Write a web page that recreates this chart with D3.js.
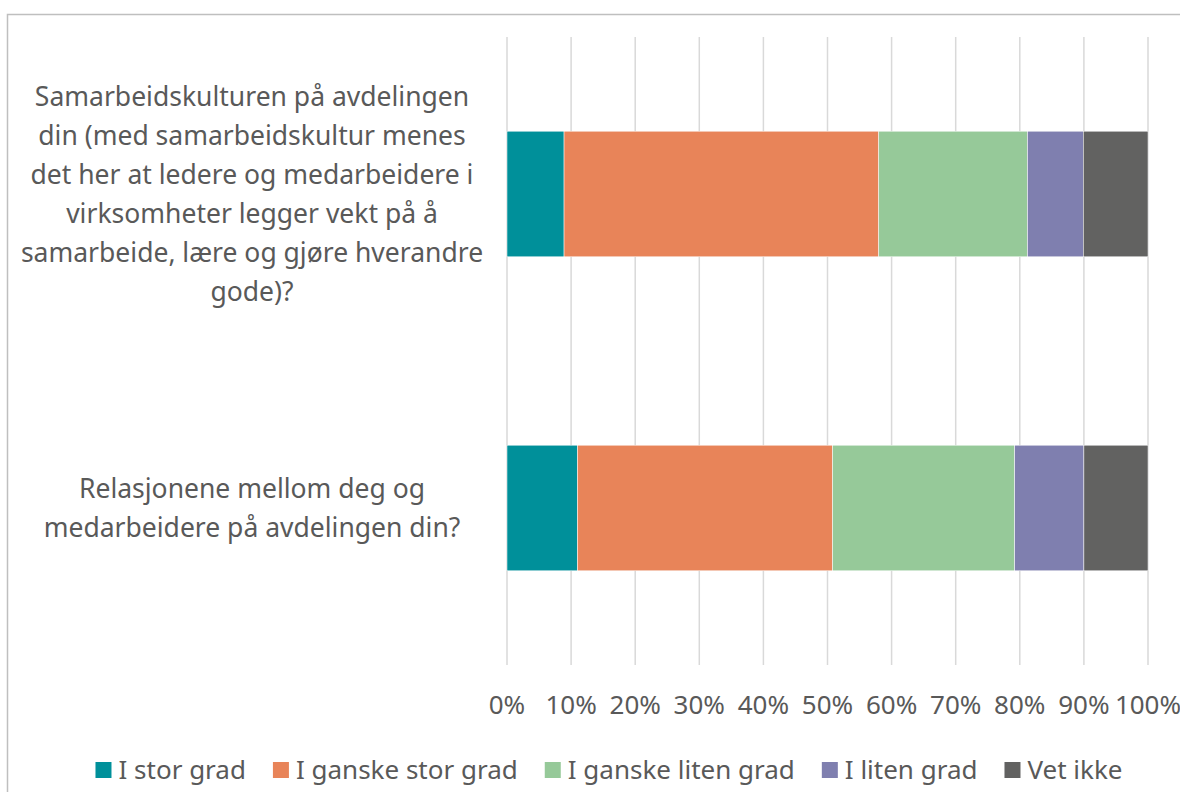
<!DOCTYPE html>
<html>
<head>
<meta charset="utf-8">
<script src="https://cdn.jsdelivr.net/npm/d3@7"></script>
<style>
  html, body { margin: 0; padding: 0; background: #fff; }
  svg { display: block; font-family: "Noto Sans", "Open Sans", sans-serif; }
</style>
</head>
<body>
<svg id="chart" width="1180" height="792"></svg>
<script>
// Stacked 100% bar data
const categories = [
  ["Samarbeidskulturen på avdelingen", "din (med samarbeidskultur menes",
   "det her at ledere og medarbeidere i", "virksomheter legger vekt på å",
   "samarbeide, lære og gjøre hverandre", "gode)?"],
  ["Relasjonene mellom deg og", "medarbeidere på avdelingen din?"]
];
const seriesNames = ["I stor grad", "I ganske stor grad", "I ganske liten grad", "I liten grad", "Vet ikke"];
const seriesColors = ["#00909a", "#e88459", "#96c999", "#7f7faf", "#626261"];
const storGrad        = [8.9, 11.0];
const ganskeStorGrad  = [49.1, 39.8];
const ganskeLitenGrad = [23.2, 28.4];
const litenGrad       = [8.7, 10.8];
const vetIkke         = [10.1, 10.0];
const tickValues = [0, 10, 20, 30, 40, 50, 60, 70, 80, 90, 100];

const INK = "#595959";
const svg = d3.select("#chart");

// chart frame (cut at right and bottom edges)
svg.append("rect").attr("x", 7.5).attr("y", 14.5).attr("width", 1400).attr("height", 900)
  .attr("fill", "none").attr("stroke", "#bfbfbf").attr("stroke-width", 1.5);

const plot = { left: 507, right: 1148, top: 37, bottom: 665 };
const x = d3.scaleLinear().domain([0, 100]).range([plot.left, plot.right]);
const y = d3.scaleBand().domain(d3.range(categories.length)).range([plot.top, plot.bottom]).paddingInner(0.6).paddingOuter(0.3);

// grid
svg.append("g").selectAll("line").data(tickValues).join("line")
  .attr("x1", d => x(d)).attr("x2", d => x(d))
  .attr("y1", plot.top).attr("y2", plot.bottom)
  .attr("stroke", "#d9d9d9").attr("stroke-width", 1.5);

// stacked bars
const rows = categories.map((c, i) => ({
  i,
  "I stor grad": storGrad[i],
  "I ganske stor grad": ganskeStorGrad[i],
  "I ganske liten grad": ganskeLitenGrad[i],
  "I liten grad": litenGrad[i],
  "Vet ikke": vetIkke[i]
}));
const stack = d3.stack().keys(seriesNames)(rows);
const color = d3.scaleOrdinal().domain(seriesNames).range(seriesColors);

svg.append("g").selectAll("g").data(stack).join("g")
  .attr("fill", s => color(s.key))
  .selectAll("rect").data(s => s).join("rect")
  .attr("x", d => x(d[0])).attr("width", d => x(d[1]) - x(d[0]))
  .attr("y", d => y(d.data.i)).attr("height", y.bandwidth())
  .attr("stroke", "#fff").attr("stroke-width", 0.5);

// x axis labels
svg.append("g").selectAll("text").data(tickValues).join("text")
  .attr("x", d => x(d)).attr("y", 714)
  .attr("text-anchor", "middle").attr("font-size", 26).attr("fill", INK)
  .text(d => d + "%");

// category labels
const LINE_H = 39;
const catG = svg.append("g");
categories.forEach((lines, i) => {
  const cy = y(i) + y.bandwidth() / 2;
  const t = catG.append("text").attr("text-anchor", "middle")
    .attr("font-size", 26.5).attr("fill", INK);
  lines.forEach((ln, k) => {
    t.append("tspan").attr("x", 252)
      .attr("y", cy + (k - (lines.length - 1) / 2) * LINE_H + 9)
      .text(ln);
  });
});

// legend
const leg = svg.append("g");
const items = leg.selectAll("g").data(seriesNames).join("g");
items.append("rect").attr("width", 16).attr("height", 16).attr("y", 762)
  .attr("fill", d => color(d));
items.append("text").attr("x", 23).attr("y", 779)
  .attr("font-size", 26).attr("fill", INK).text(d => d);
let cx = 0;
const pos = [];
items.each(function () {
  const w = 23 + this.querySelector("text").getComputedTextLength();
  pos.push(cx);
  cx += w + 27;
});
const total = cx - 27;
const start = 609 - total / 2;
items.attr("transform", (d, i) => `translate(${start + pos[i]},0)`);
</script>
</body>
</html>
